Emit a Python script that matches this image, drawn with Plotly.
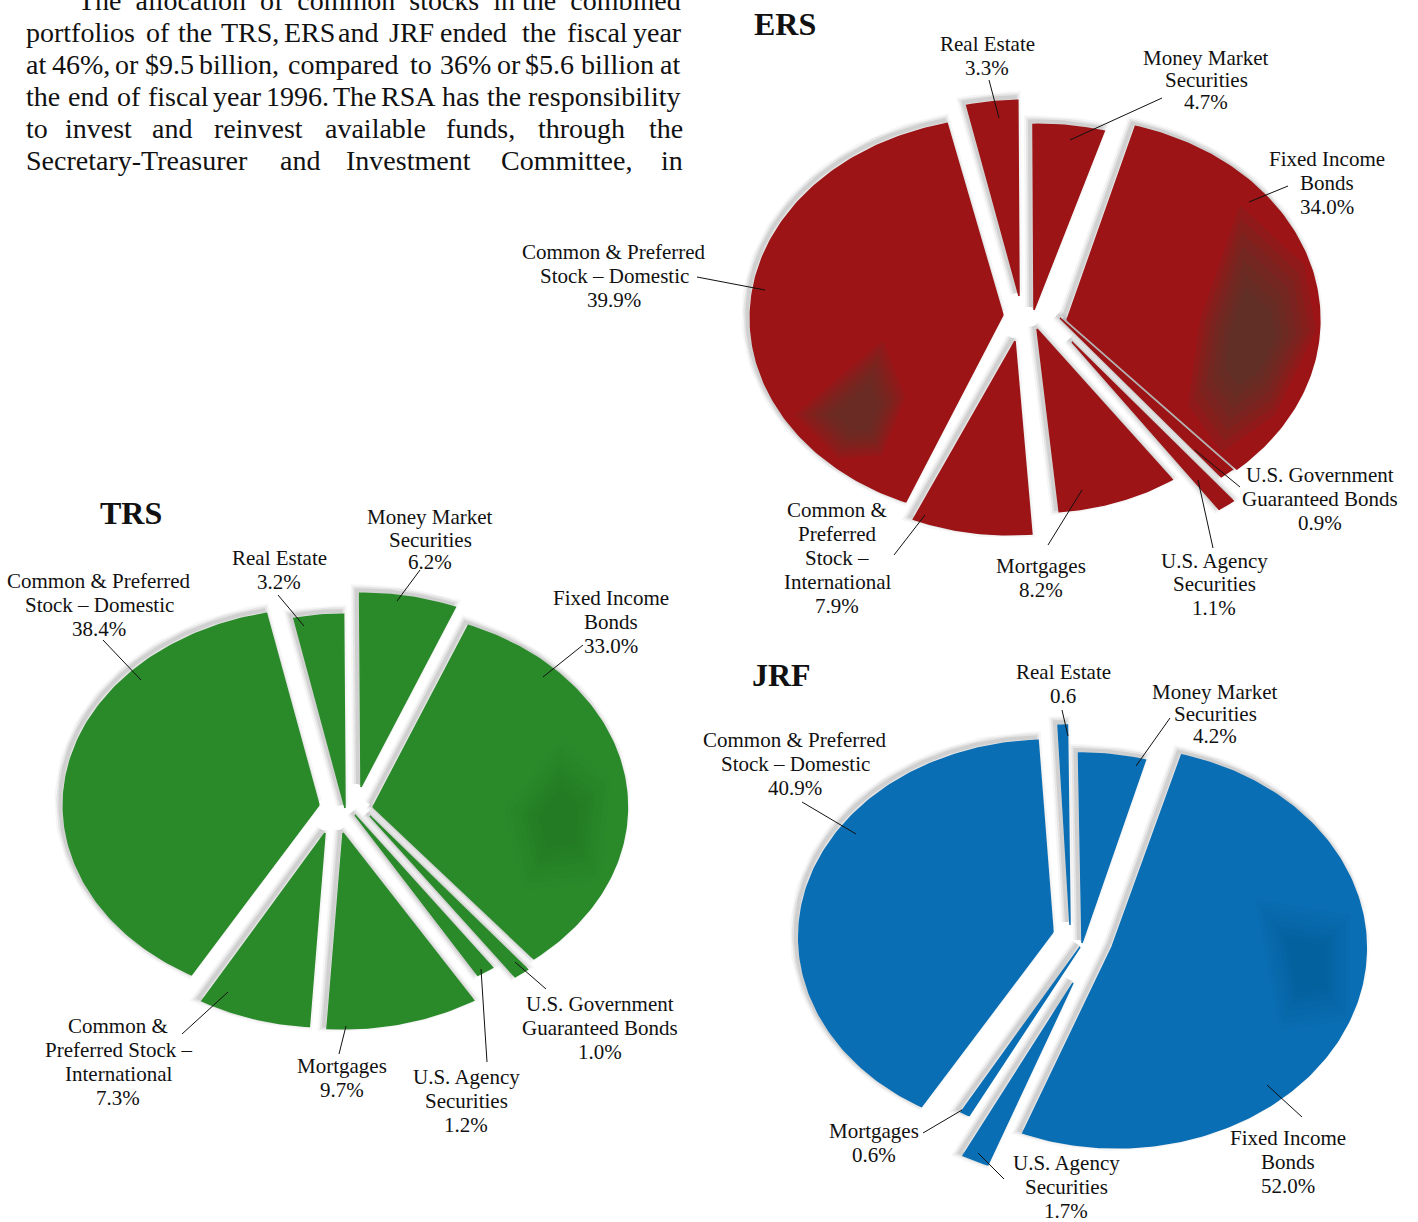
import math
import plotly.graph_objects as go

SERIF = "Liberation Serif"

# ---- data ----
categories_ers = ["Fixed Income Bonds", "U.S. Government Guaranteed Bonds", "U.S. Agency Securities", "Mortgages",
                  "Common & Preferred Stock – International", "Common & Preferred Stock – Domestic", "Real Estate",
                  "Money Market Securities"]
values_ers = [34.0, 0.9, 1.1, 8.2, 7.9, 39.9, 3.3, 4.7]
categories_trs = categories_ers
values_trs = [33.0, 1.0, 1.2, 9.7, 7.3, 38.4, 3.2, 6.2]
categories_jrf = ["Fixed Income Bonds", "U.S. Agency Securities", "Mortgages",
                  "Common & Preferred Stock – Domestic", "Real Estate", "Money Market Securities"]
values_jrf = [52.0, 1.7, 0.6, 40.9, 0.6, 4.2]

# ---- style: per-slice placement (centre x, centre y, x scale, y scale, apex dx, apex dy) ----
RX, RY = 257, 204
ers_style = dict(start=15.5, colors=["#9c1416"] * 8, place=[
    (1068, 320, .98, .985, -1, 0), (1060, 318, 1.0, 1.0, 0, 0), (1072, 342, 1.0, 1.0, 0, 0),
    (1037, 329, .92, .90, 0, 0), (1009, 341, .95, .95, 6, 0), (1006, 318, .995, .98, -3, -3),
    (1024, 296, .97, .96, -5, 0), (1039, 312, .95, .92, -5, -2)])
trs_style = dict(start=22.0, colors=["#2a8a2a"] * 8, place=[
    (373, 807, .99, .96, 0, 0), (370, 816, .97, .97, 0, 0), (355, 815, .92, .92, 0, 0),
    (343, 833, .98, .96, 0, 0), (325, 833, .96, .95, 0, 0), (319, 805, .995, .96, 0, 0),
    (345, 808, .97, .95, 0, 0), (361, 787, .98, .95, 0, 0)])
jrf_style = dict(start=15.0, colors=["#0a6eb4"] * 6, place=[
    (1117, 948, .97, .98, -5, -1), (1085, 976, 1.0, 1.0, -12, 7), (1085, 945, .95, .95, -5, 2),
    (1048, 937, .97, .965, 5, -5), (1068, 925, .98, .98, 2, 0), (1079, 957, 1.0, 1.0, 3, -14)])

# ---- labels: (text lines, centre x, line ys, bold) ----
labels = [
    (["ERS"], 785, [24], True), (["TRS"], 131, [513], True), (["JRF"], 781, [675], True),
    (["Real Estate", "3.3%"], 987, [44, 68], False),
    (["Money Market", "Securities", "4.7%"], 1206, [58, 80, 102], False),
    (["Fixed Income", "Bonds", "34.0%"], 1327, [159, 183, 207], False),
    (["Common & Preferred", "Stock – Domestic", "39.9%"], 614, [252, 276, 300], False),
    (["U.S. Government", "Guaranteed Bonds", "0.9%"], 1320, [475, 499, 523], False),
    (["U.S. Agency", "Securities", "1.1%"], 1214, [561, 584, 608], False),
    (["Mortgages", "8.2%"], 1041, [566, 590], False),
    (["Common &", "Preferred", "Stock –", "International", "7.9%"], 837, [510, 534, 558, 582, 606], False),
    (["Common & Preferred", "Stock – Domestic", "38.4%"], 99, [581, 605, 629], False),
    (["Real Estate", "3.2%"], 279, [558, 582], False),
    (["Money Market", "Securities", "6.2%"], 430, [517, 540, 562], False),
    (["Fixed Income", "Bonds", "33.0%"], 611, [598, 622, 646], False),
    (["U.S. Government", "Guaranteed Bonds", "1.0%"], 600, [1004, 1028, 1052], False),
    (["U.S. Agency", "Securities", "1.2%"], 466, [1077, 1101, 1125], False),
    (["Mortgages", "9.7%"], 342, [1066, 1090], False),
    (["Common &", "Preferred Stock –", "International", "7.3%"], 118, [1026, 1050, 1074, 1098], False),
    (["Common & Preferred", "Stock – Domestic", "40.9%"], 795, [740, 764, 788], False),
    (["Real Estate", "0.6"], 1063, [672, 696], False),
    (["Money Market", "Securities", "4.2%"], 1215, [692, 714, 736], False),
    (["Fixed Income", "Bonds", "52.0%"], 1288, [1138, 1162, 1186], False),
    (["Mortgages", "0.6%"], 874, [1131, 1155], False),
    (["U.S. Agency", "Securities", "1.7%"], 1066, [1163, 1187, 1211], False),
]
leaders = [
    (989, 80, 999, 118), (1162, 98, 1070, 140), (1288, 186, 1249, 202), (697, 277, 765, 290),
    (1240, 487, 1195, 450), (1213, 548, 1198, 480), (1048, 545, 1082, 490), (894, 555, 925, 515),
    (103, 640, 141, 680), (278, 595, 304, 626), (420, 570, 397, 601), (583, 645, 543, 677),
    (546, 989, 515, 962), (487, 1062, 481, 969), (339, 1054, 346, 1026), (182, 1034, 228, 992),
    (802, 802, 856, 834), (1062, 710, 1068, 736), (1170, 718, 1136, 766), (1302, 1117, 1267, 1085),
    (923, 1133, 962, 1110), (1004, 1179, 978, 1153),
]

# paragraph: (word, left x) for each line, with the line's y
NB2 = "&#160;&#160;"
para_lines = [
    ([(NB2.join(["The", "allocation", "of", "common", "stocks", "in"]) + " the" + NB2 + "combined", 78)], 0),
    ([("portfolios", 26), ("of", 146), ("the", 178), ("TRS,", 221), ("ERS", 284), ("and", 338), ("JRF", 389),
      ("ended", 440), ("the", 522), ("fiscal", 567), ("year", 633)], 32),
    ([("at", 26), ("46%,", 52), ("or", 115), ("$9.5", 145), ("billion,", 199), ("compared", 288), ("to", 410),
      ("36%", 440), ("or", 497), ("$5.6", 525), ("billion", 581), ("at", 660)], 64),
    ([("the", 26), ("end", 68), ("of", 117), ("fiscal", 148), ("year", 213), ("1996.", 266), ("The", 333),
      ("RSA", 381), ("has", 442), ("the", 487), ("responsibility", 528)], 96),
    ([("to", 26), ("invest", 65), ("and", 152), ("reinvest", 214), ("available", 325), ("funds,", 446),
      ("through", 538), ("the", 649)], 128),
    ([("Secretary-Treasurer", 26), ("and", 280), ("Investment", 346), ("Committee,", 501), ("in", 661)], 160),
]

# darker mottled areas of the printed pies: (colour, layer opacity, outline vertices)
mottles = [
    ("#4a4030", .14, [(1240, 205), (1304, 265), (1316, 330), (1275, 415), (1222, 452), (1188, 405), (1200, 320)]),
    ("#4a4030", .13, [(795, 415), (883, 340), (905, 397), (882, 455), (838, 458)]),
    ("#145a14", .045, [(560, 740), (610, 780), (600, 880), (525, 890), (505, 810)]),
    ("#05507f", .05, [(1255, 900), (1350, 915), (1350, 1020), (1280, 1030)]),
]


def wedge(t0, t1, place):
    cx, cy, sx, sy, ax, ay = place
    n = max(3, int(abs(t1 - t0)))
    xs, ys = [cx + ax], [cy + ay]
    for i in range(n + 1):
        t = math.radians(t0 + (t1 - t0) * i / n)
        xs.append(cx + RX * sx * math.sin(t))
        ys.append(cy - RY * sy * math.cos(t))
    xs.append(cx + ax)
    ys.append(cy + ay)
    return xs, ys


fig = go.Figure()


def add_pie(name, cats, vals, style):
    total = sum(vals)
    slices = []
    t = style["start"]
    for c, v, col, pl in zip(cats, vals, style["colors"], style["place"]):
        t1 = t + 360 * v / total
        slices.append((c, v, col, wedge(t, t1, pl)))
        t = t1
    # soft shadow, then the slices on top
    for width, alpha in ((12, .05), (8, .09), (4, .13)):
        for c, v, col, (xs, ys) in slices:
            fig.add_trace(go.Scatter(x=[x - 3 for x in xs], y=[y - 3 for y in ys], mode="lines",
                                     line=dict(color=f"rgba(70,70,70,{alpha})", width=width),
                                     hoverinfo="skip", showlegend=False))
    for c, v, col, (xs, ys) in slices:
        fig.add_trace(go.Scatter(x=xs, y=ys, mode="lines", fill="toself", fillcolor=col,
                                 line=dict(color=col, width=1.5), name=f"{name}: {c}",
                                 text=f"{name} {c}: {v}%", hoverinfo="text", showlegend=False))


add_pie("ERS", categories_ers, values_ers, ers_style)
add_pie("TRS", categories_trs, values_trs, trs_style)
add_pie("JRF", categories_jrf, values_jrf, jrf_style)

annotations = []
for lines, x, ys, bold in labels:
    for line, y in zip(lines, ys):
        annotations.append(dict(x=x, y=y, text=f"<b>{line}</b>" if bold else line, showarrow=False,
                                xanchor="center", yanchor="middle",
                                font=dict(family=SERIF, size=32 if bold else 21, color="#111111")))
for words, y in para_lines:
    for word, x in words:
        annotations.append(dict(x=x - 2, y=y, text=word, showarrow=False, xanchor="left", yanchor="middle",
                                font=dict(family=SERIF, size=28, color="#111111")))

shapes = []
for colour, op, pts in mottles:
    mx = sum(p[0] for p in pts) / len(pts)
    my = sum(p[1] for p in pts) / len(pts)
    for k in (1.0, .9, .8, .7, .6, .5, .4):
        scaled = [(mx + (a - mx) * k, my + (b - my) * k) for a, b in pts]
        path = "M" + " L".join(f"{a:.1f},{b:.1f}" for a, b in scaled) + " Z"
        shapes.append(dict(type="path", path=path, fillcolor=colour, opacity=op, line=dict(width=0)))
shapes += [dict(type="line", x0=a, y0=b, x1=c, y1=d, line=dict(color="#111111", width=1)) for a, b, c, d in leaders]

fig.update_layout(width=1418, height=1222, margin=dict(l=0, r=0, t=0, b=0), paper_bgcolor="white",
                  plot_bgcolor="white", showlegend=False, annotations=annotations, shapes=shapes,
                  xaxis=dict(range=[0, 1418], visible=False, fixedrange=True),
                  yaxis=dict(range=[1222, 0], visible=False, fixedrange=True))
fig.write_html("out.html", post_script="document.body.style.margin='0';", config=dict(displayModeBar=False))
